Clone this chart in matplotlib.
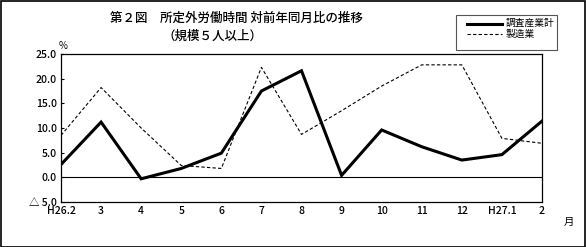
import matplotlib
matplotlib.use("Agg")
import matplotlib.pyplot as plt
from matplotlib.patches import Rectangle

plt.rcParams['font.family'] = ['Noto Sans CJK JP', 'DejaVu Sans']

months = ['H26.2', '3', '4', '5', '6', '7', '8', '9', '10', '11', '12', 'H27.1', '2']
total = [2.6, 11.2, -0.3, 1.8, 4.9, 17.5, 21.6, 0.4, 9.6, 6.2, 3.5, 4.6, 11.4]
manuf = [8.5, 18.2, 10.0, 2.4, 1.8, 22.3, 8.7, 13.5, 18.5, 22.8, 22.8, 7.9, 6.9]
yticks = [-5, 0, 5, 10, 15, 20, 25]
ylabels = ['△ 5.0', '0.0', '5.0', '10.0', '15.0', '20.0', '25.0']

W, H = 586, 247
fig = plt.figure(figsize=(W / 100, H / 100), dpi=100)
ax = fig.add_axes([61 / W, 1 - 202 / H, (542 - 61) / W, (202 - 54) / H])

x = list(range(len(months)))
ax.plot(x, total, color='black', lw=2.2, solid_joinstyle='miter')
ax.plot(x, manuf, color='black', lw=0.8, ls=(0, (3, 2)))
ax.axhline(0, color='black', lw=0.8)

ax.set_xlim(0, len(months) - 1)
ax.set_ylim(-5, 25)
ax.set_xticks(x)
ax.set_xticklabels(months, fontsize=7.5, fontweight='medium')
ax.set_yticks(yticks)
ax.set_yticklabels(ylabels, fontsize=7.5, fontweight='medium')
ax.tick_params(axis='x', length=0, pad=3)
ax.tick_params(axis='y', direction='in', length=2, width=0.8, pad=3)
for s in ax.spines.values():
    s.set_linewidth(0.9)

fig.text(63 / W, 1 - 51 / H, '%', fontsize=7, ha='center', va='bottom')
fig.text(569 / W, 1 - 222 / H, '月', fontsize=7.5, ha='center', va='center')

# title
fig.text(110 / W, 1 - 18 / H, '第２図　所定外労働時間 対前年同月比の推移', fontsize=9,
         fontweight='medium', ha='left', va='center')
fig.text(163 / W, 1 - 36 / H, '（規模５人以上）', fontsize=9, fontweight='medium',
         ha='left', va='center')

# legend box
fig.patches.append(Rectangle((456 / W, 1 - 50 / H), (557 - 456) / W, 35 / H,
                             transform=fig.transFigure, fill=False, ec='#555555', lw=0.8))
fig.lines.append(plt.Line2D([467 / W, 502 / W], [1 - 24 / H, 1 - 24 / H],
                            transform=fig.transFigure, color='black', lw=2.2))
fig.lines.append(plt.Line2D([467 / W, 502 / W], [1 - 34 / H, 1 - 34 / H],
                            transform=fig.transFigure, color='black', lw=0.8, ls=(0, (3, 2))))
fig.text(506 / W, 1 - 23 / H, '調査産業計', fontsize=7, ha='left', va='center')
fig.text(506 / W, 1 - 34 / H, '製造業', fontsize=7, ha='left', va='center')

# outer frame
fig.patches.append(Rectangle((0.5 / W, 0.5 / H), (W - 2) / W, (H - 2) / H,
                             transform=fig.transFigure, fill=False, ec='black', lw=1.2))

fig.savefig('out.png', dpi=100)
